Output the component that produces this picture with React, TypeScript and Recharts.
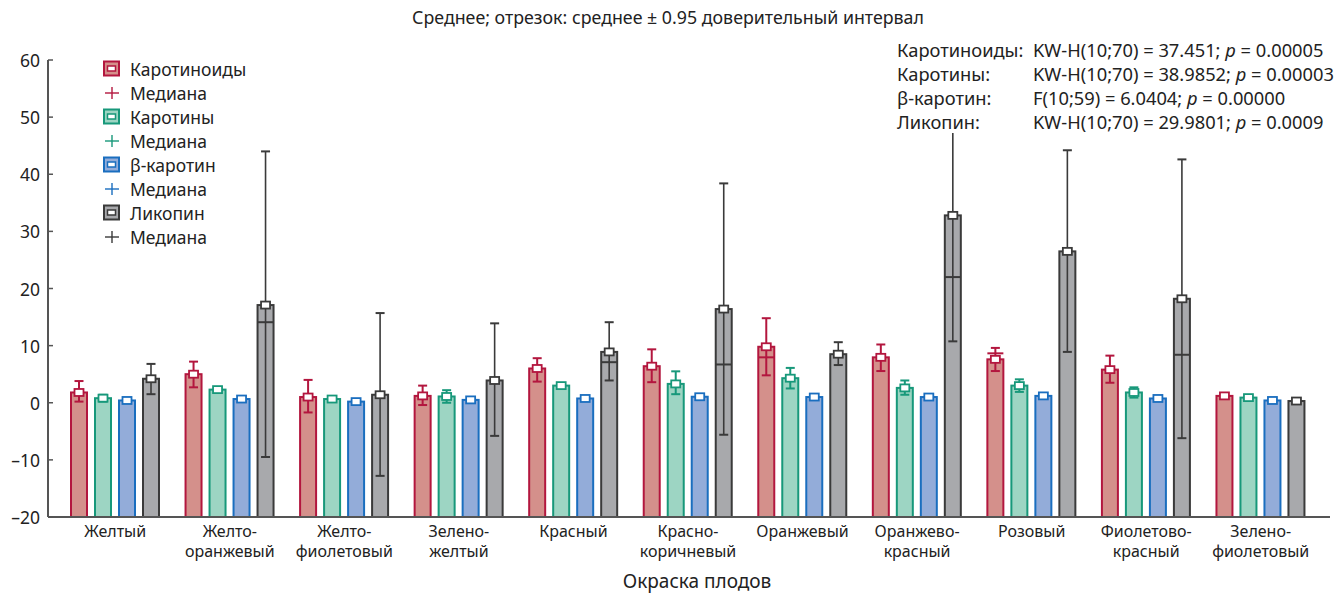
import React from 'react';
import { ComposedChart, Bar, XAxis, YAxis } from 'recharts';

// Fruit colour groups
const categories = [
  'Желтый', 'Желто-\nоранжевый', 'Желто-\nфиолетовый', 'Зелено-\nжелтый', 'Красный',
  'Красно-\nкоричневый', 'Оранжевый', 'Оранжево-\nкрасный', 'Розовый',
  'Фиолетово-\nкрасный', 'Зелено-\nфиолетовый',
];

const yTicks = [-20, -10, 0, 10, 20, 30, 40, 50, 60];

// Каротиноиды: mean, 0.95 CI bounds, median
const carotenoidsMean = [1.8, 5.0, 1.0, 1.2, 6.0, 6.4, 9.8, 7.95, 7.6, 5.8, 1.2];
const carotenoidsLow = [0.2, 2.7, -1.7, -0.4, 3.7, 3.6, 4.8, 5.55, 5.55, 3.5, 1.0];
const carotenoidsHigh = [3.8, 7.2, 4.0, 3.0, 7.8, 9.35, 14.8, 10.2, 9.6, 8.25, 1.5];
const carotenoidsMedian = [null, null, null, null, null, null, 7.95, null, 8.65, null, null];

// Каротины
const carotenesMean = [0.8, 2.3, 0.65, 1.1, 3.0, 3.3, 4.3, 2.6, 3.0, 1.8, 0.9];
const carotenesLow = [0.2, 1.9, 0.3, 0.0, 2.6, 1.5, 2.5, 1.4, 1.9, 0.9, 0.6];
const carotenesHigh = [1.4, 2.6, 1.0, 2.2, 3.3, 5.5, 6.1, 3.9, 4.1, 2.7, 1.3];
const carotenesMedian = [null, null, null, null, null, null, null, null, null, null, null];

// β-каротин
const betaMean = [0.4, 0.65, 0.2, 0.5, 0.75, 1.05, 1.0, 1.0, 1.2, 0.75, 0.4];
const betaLow = [0.1, 0.3, 0.0, 0.2, 0.5, 0.8, 0.7, 0.8, 1.0, 0.5, 0.2];
const betaHigh = [0.6, 1.0, 0.4, 0.8, 1.1, 1.4, 1.3, 1.3, 1.5, 1.0, 0.7];
const betaMedian = [null, null, null, null, null, null, null, null, null, null, null];

// Ликопин
const lycopeneMean = [4.2, 17.1, 1.4, 3.9, 8.9, 16.4, 8.5, 32.8, 26.5, 18.2, 0.3];
const lycopeneLow = [1.5, -9.5, -12.8, -5.8, 3.9, -5.6, 6.6, 10.75, 8.9, -6.2, 0.1];
const lycopeneHigh = [6.8, 44.0, 15.7, 13.9, 14.1, 38.4, 10.6, 54.9, 44.2, 42.6, 0.5];
const lycopeneMedian = [null, 14.1, null, null, 7.1, 6.7, null, 22.0, null, 8.4, null];

const statLines = [
  ['Каротиноиды:', 'KW-H(10;70) = 37.451; ', '0.00005'],
  ['Каротины:', 'KW-H(10;70) = 38.9852; ', '0.00003'],
  ['β-каротин:', 'F(10;59) = 6.0404; ', '0.00000'],
  ['Ликопин:', 'KW-H(10;70) = 29.9801; ', '0.0009'],
];

const Y_MIN = -20;
const Y_MAX = 60;
const FONT = '"Noto Sans", "DejaVu Sans", sans-serif';

type Series = {
  key: string;
  name: string;
  mean: number[];
  low: number[];
  high: number[];
  median: (number | null)[];
  fill: string;
  stroke: string;
};

const series: Series[] = [
  { key: 'car', name: 'Каротиноиды', mean: carotenoidsMean, low: carotenoidsLow, high: carotenoidsHigh, median: carotenoidsMedian, fill: '#d4908b', stroke: '#b3163e' },
  { key: 'krt', name: 'Каротины', mean: carotenesMean, low: carotenesLow, high: carotenesHigh, median: carotenesMedian, fill: '#9dd5c3', stroke: '#17987a' },
  { key: 'beta', name: 'β-каротин', mean: betaMean, low: betaLow, high: betaHigh, median: betaMedian, fill: '#93acd9', stroke: '#1a6ebf' },
  { key: 'lyc', name: 'Ликопин', mean: lycopeneMean, low: lycopeneLow, high: lycopeneHigh, median: lycopeneMedian, fill: '#a8a9ac', stroke: '#3a3a3a' },
];

const data = categories.map((name, i) => {
  const row: Record<string, any> = { name, i };
  series.forEach((s) => {
    row[s.key] = [Y_MIN, s.mean[i]];
  });
  return row;
});

// Bar from the axis floor up to the mean, with CI whisker, median line and mean marker.
const makeShape = (s: Series) => (props: any) => {
  const { x, y, width, height, payload } = props;
  const i = payload.i;
  const mean = s.mean[i];
  const bottom = y + height;
  const k = height / (mean - Y_MIN);
  const py = (v: number) => bottom - (v - Y_MIN) * k;
  const cx = x + width / 2;
  const yLow = py(s.low[i]);
  const yHigh = py(s.high[i]);
  const yMean = py(mean);
  const med = s.median[i];
  const cap = 4.5;
  const wStroke = s.key === 'lyc' ? 1.6 : 2;
  return (
    <g>
      <rect x={x} y={y} width={width} height={height} fill={s.fill} stroke={s.stroke} strokeWidth={2} />
      {med != null && (
        <line x1={x} x2={x + width} y1={py(med)} y2={py(med)} stroke={s.stroke} strokeWidth={2} />
      )}
      <line x1={cx} x2={cx} y1={yLow} y2={yHigh} stroke={s.stroke} strokeWidth={wStroke} />
      <line x1={cx - cap} x2={cx + cap} y1={yLow} y2={yLow} stroke={s.stroke} strokeWidth={2} />
      <line x1={cx - cap} x2={cx + cap} y1={yHigh} y2={yHigh} stroke={s.stroke} strokeWidth={2} />
      <rect x={cx - 4.5} y={yMean - 3.5} width={9} height={7} fill="#ffffff" stroke={s.stroke} strokeWidth={1.8} />
    </g>
  );
};

const YTick = (props: any) => {
  const { x, y, payload } = props;
  const v = payload.value as number;
  const label = v < 0 ? '\u2013' + Math.abs(v) : String(v);
  return (
    <g>
      <line x1={x} x2={x + 5} y1={y} y2={y} stroke="#555" strokeWidth={1.5} />
      <text x={x - 8} y={y + 7} textAnchor="end" fontSize={17.5} fill="#222" fontFamily={FONT}>
        {label}
      </text>
    </g>
  );
};

const XTick = (props: any) => {
  const { x, y, payload } = props;
  const lines = String(payload.value).split('\n');
  return (
    <g>
      {lines.map((l, j) => (
        <text key={j} x={x} y={y + 20 + j * 20} textAnchor="middle" fontSize={16} fill="#222" fontFamily={FONT}>
          {l}
        </text>
      ))}
    </g>
  );
};

const LegendBlock = () => (
  <div
    style={{
      position: 'absolute', left: 100, top: 57,
      fontFamily: FONT, fontSize: 17.5, color: '#222', lineHeight: '24px',
    }}
  >
    {series.map((s) => (
      <React.Fragment key={s.key}>
        <div style={{ display: 'flex', alignItems: 'center', height: 24 }}>
          <svg width={30} height={24}>
            <rect x={4} y={4.5} width={15} height={14} fill={s.fill} stroke={s.stroke} strokeWidth={2} />
            <rect x={7.5} y={9} width={8} height={5} fill="#fff" stroke={s.stroke} strokeWidth={1.5} />
          </svg>
          <span>{s.name}</span>
        </div>
        <div style={{ display: 'flex', alignItems: 'center', height: 24 }}>
          <svg width={30} height={24}>
            <line x1={5} x2={19} y1={12} y2={12} stroke={s.stroke} strokeWidth={1.4} />
            <line x1={12} x2={12} y1={6} y2={18} stroke={s.stroke} strokeWidth={1.4} />
          </svg>
          <span>Медиана</span>
        </div>
      </React.Fragment>
    ))}
  </div>
);

export default function App() {
  return (
    <div style={{ position: 'absolute', left: 0, top: 0, width: 1336, height: 596, background: '#fff' }}>
      <ComposedChart
        width={1336}
        height={596}
        data={data}
        margin={{ top: 60, right: 6, left: 0, bottom: 0 }}
        barGap={8}
        barSize={16}
      >
        <XAxis
          dataKey="name"
          type="category"
          interval={0}
          height={79}
          padding={{ left: 10, right: 12 }}
          axisLine={{ stroke: '#555', strokeWidth: 2 }}
          tickLine={false}
          tickSize={0}
          tickMargin={0}
          tick={<XTick />}
        />
        <YAxis
          type="number"
          domain={[Y_MIN, Y_MAX]}
          ticks={yTicks}
          allowDataOverflow
          width={48}
          axisLine={{ stroke: '#555', strokeWidth: 2 }}
          tickLine={false}
          tickSize={0}
          tickMargin={0}
          tick={<YTick />}
        />
        {series.map((s) => (
          <Bar
            key={s.key}
            name={s.name}
            dataKey={s.key}
            fill={s.fill}
            stroke={s.stroke}
            shape={makeShape(s)}
            isAnimationActive={false}
          />
        ))}
      </ComposedChart>
      <LegendBlock />
      <div
        style={{
          position: 'absolute', left: 0, top: 5, width: 1336, textAlign: 'center',
          fontFamily: FONT, fontSize: 17.8, color: '#222',
        }}
      >
        Среднее; отрезок: среднее ± 0.95 доверительный интервал
      </div>
      <div
        style={{
          position: 'absolute', left: 0, top: 568, width: 1394, textAlign: 'center',
          fontFamily: FONT, fontSize: 19, color: '#222',
        }}
      >
        Окраска плодов
      </div>
      <div
        style={{
          position: 'absolute', left: 893, top: 37, width: 440, height: 96, background: '#fff',
          fontFamily: FONT, fontSize: 18.3, color: '#222',
        }}
      >
        {statLines.map((l, j) => (
          <div key={j} style={{ position: 'absolute', left: 4, top: 1 + j * 24, height: 24, lineHeight: '24px', whiteSpace: 'nowrap' }}>
            <span>{l[0]}</span>
            <span style={{ position: 'absolute', left: 136 }}>
              {l[1]}
              <i>p</i> = {l[2]}
            </span>
          </div>
        ))}
      </div>
    </div>
  );
}
